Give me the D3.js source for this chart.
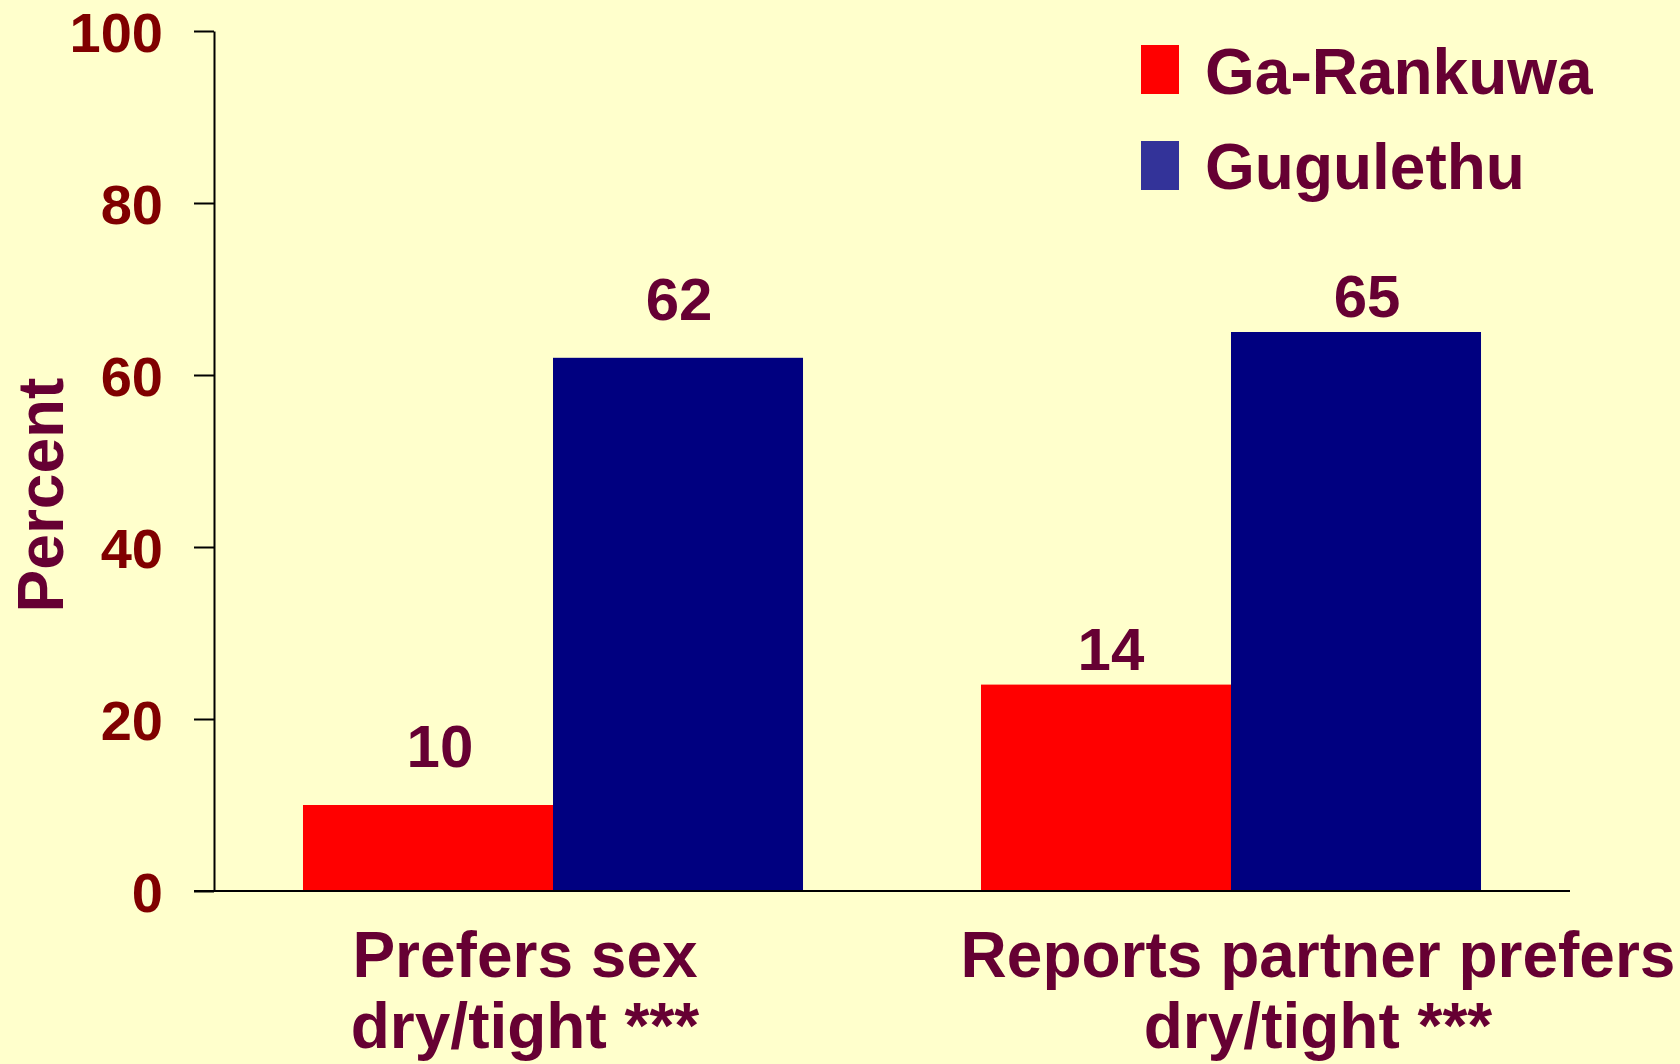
<!DOCTYPE html>
<html>
<head>
<meta charset="utf-8">
<script src="https://cdn.jsdelivr.net/npm/d3@7"></script>
<style>
  body { margin: 0; background: #ffffcc; }
  svg { display: block; font-family: "Liberation Sans", Arial, sans-serif; font-weight: bold; }
</style>
</head>
<body>
<div id="chart"></div>
<script>
// categories, two lines each
var categories = ["Prefers sex|dry/tight ***", "Reports partner prefers|dry/tight ***"];
var seriesNames = ["Ga-Rankuwa", "Gugulethu"];
// bar heights as drawn
var gaRankuwa = [10, 24];
var gugulethu = [62, 65];
// value labels as printed above the bars
var gaRankuwaLabels = ["10", "14"];
var gugulethuLabels = ["62", "65"];
var yTicks = [0, 20, 40, 60, 80, 100];

var barColors = ["#ff0000", "#000080"];
var legendColors = ["#ff0000", "#333399"];
var textColor = "#660033";

var width = 1680, height = 1064;
var svg = d3.select("#chart").append("svg")
    .attr("width", width)
    .attr("height", height);

svg.append("rect").attr("width", width).attr("height", height).attr("fill", "#ffffcc");

var y = d3.scaleLinear().domain([0, 100]).range([891, 31]);

var x0 = d3.scaleBand()
    .domain(categories)
    .range([214, 1570])
    .paddingInner(0.2625)
    .paddingOuter(0.13125);

var x1 = d3.scaleBand()
    .domain(seriesNames)
    .range([0, x0.bandwidth()]);

// y axis
var yAxis = svg.append("g")
    .attr("transform", "translate(214,0)")
    .call(d3.axisLeft(y).tickValues(yTicks).tickSize(20).tickSizeOuter(0).tickPadding(31));
yAxis.select(".domain").attr("stroke", "#000").attr("stroke-width", 2);
yAxis.selectAll(".tick line").attr("stroke", "#000").attr("stroke-width", 2);
yAxis.selectAll(".tick text")
    .attr("fill", "#800000")
    .style("font-size", "56px")
    .style("font-family", "Liberation Sans, Arial, sans-serif")
    .style("font-weight", "bold")
    .attr("dy", "0.36em");

// y title
svg.append("text")
    .attr("transform", "translate(63,495) rotate(-90)")
    .attr("text-anchor", "middle")
    .attr("fill", textColor)
    .style("font-size", "64px")
    .text("Percent");

// bars
var groups = svg.selectAll("g.group")
    .data(categories)
    .enter().append("g")
    .attr("class", "group")
    .attr("transform", function(d) { return "translate(" + x0(d) + ",0)"; });

var labelGap = [38, 15];
var labelNudge = [[12, 1], [5, 11]];

groups.each(function(cat, i) {
    var g = d3.select(this);
    var vals = [gaRankuwa[i], gugulethu[i]];
    var labs = [gaRankuwaLabels[i], gugulethuLabels[i]];
    seriesNames.forEach(function(s, j) {
        g.append("rect")
            .attr("x", x1(s))
            .attr("y", y(vals[j]))
            .attr("width", x1.bandwidth())
            .attr("height", y(0) - y(vals[j]))
            .attr("fill", barColors[j]);
        g.append("text")
            .attr("x", x1(s) + x1.bandwidth() / 2 + labelNudge[i][j])
            .attr("y", y(vals[j]) - labelGap[i])
            .attr("text-anchor", "middle")
            .attr("fill", textColor)
            .style("font-size", "60px")
            .text(labs[j]);
    });
});

// x axis line
svg.append("line")
    .attr("x1", 194).attr("x2", 1570)
    .attr("y1", y(0)).attr("y2", y(0))
    .attr("stroke", "#000").attr("stroke-width", 2);

// category labels
var labelShift = [-28, 87];
categories.forEach(function(c, i) {
    var cx = x0(c) + x0.bandwidth() / 2 + labelShift[i];
    var t = svg.append("text")
        .attr("text-anchor", "middle")
        .attr("fill", textColor)
        .style("font-size", "64px");
    c.split("|").forEach(function(line, k) {
        t.append("tspan").attr("x", cx).attr("y", 977 + k * 71).text(line);
    });
});

// legend
seriesNames.forEach(function(s, i) {
    svg.append("rect")
        .attr("x", 1141).attr("y", 45 + i * 96)
        .attr("width", 38).attr("height", 49)
        .attr("fill", legendColors[i]);
    svg.append("text")
        .attr("x", 1205).attr("y", 94 + i * 95)
        .attr("fill", textColor)
        .style("font-size", "64px")
        .text(s);
});
</script>
</body>
</html>
